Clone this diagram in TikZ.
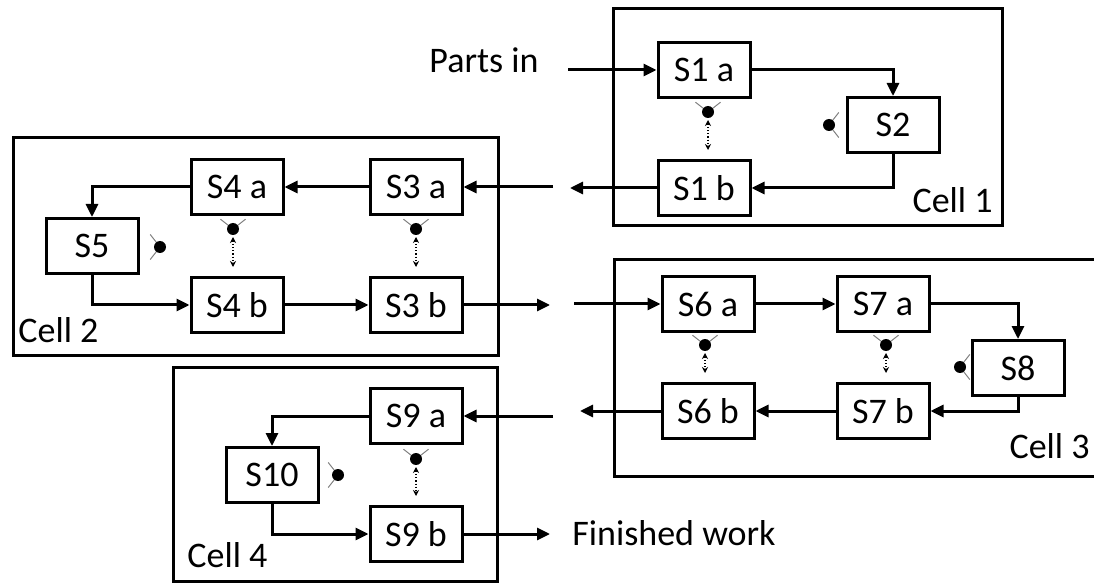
\documentclass[tikz,border=0pt]{standalone}
\usepackage{fontspec}
\setmainfont{Carlito}
\usetikzlibrary{arrows.meta}
\begin{document}
\begin{tikzpicture}[x=0.5pt,y=-0.5pt,
  station/.style={draw,line width=1.5pt,minimum width=46pt,minimum height=27.5pt,inner sep=0pt,font=\fontsize{18}{21}\selectfont},
  cellbox/.style={line width=1.5pt},
  lbl/.style={font=\fontsize{18}{21}\selectfont,inner sep=0pt},
  flow/.style={line width=1.5pt,-{Triangle[length=6.5pt,width=6pt]}},
  arm/.style={gray,line width=0.5pt},
  dotarr/.style={densely dotted,line width=0.6pt,{Stealth[length=3pt,width=3pt]}-{Stealth[length=3pt,width=3pt]},shorten <=4pt,shorten >=4.5pt},
  worker/.pic={\draw[arm] (0,0) -- ++(#1+52:16) (0,0) -- ++(#1-52:16); \fill (0,0) circle (3pt);}
]
\useasboundingbox (0,0) rectangle (1094,583);
\clip (0,0) rectangle (1094,583);

% cells
\draw[cellbox] (613,9) rectangle (1002,226);
\draw[cellbox] (13,138) rectangle (498,355);
\draw[cellbox] (614,260) rectangle (1120,476);
\draw[cellbox] (173,367) rectangle (497,581);
\node[lbl,anchor=base east] (c1) at (993,213) {Cell 1};
\node[lbl,anchor=base west] (c2) at (18,343) {Cell 2};
\node[lbl,anchor=base east] (c3) at (1090,458) {Cell 3};
\node[lbl,anchor=base west] (c4) at (187,567) {Cell 4};

% stations
\node[station] (S1a) at (704,70) {S1 a};
\node[station] (S2) at (893,125) {S2};
\node[station] (S1b) at (704,188) {S1 b};
\node[station] (S3a) at (416,187) {S3 a};
\node[station] (S4a) at (237,187) {S4 a};
\node[station] (S5) at (92,246) {S5};
\node[station] (S4b) at (237,305) {S4 b};
\node[station] (S3b) at (416,305) {S3 b};
\node[station] (S6a) at (708,304) {S6 a};
\node[station] (S7a) at (883,304) {S7 a};
\node[station] (S8) at (1018,368) {S8};
\node[station] (S6b) at (708,411) {S6 b};
\node[station] (S7b) at (883,411) {S7 b};
\node[station] (S9a) at (416,416) {S9 a};
\node[station] (S10) at (272,475) {S10};
\node[station] (S9b) at (416,534) {S9 b};

% outside texts
\node[lbl,anchor=base west] (pin) at (429,73) {Parts in};
\node[lbl,anchor=base west] (fw) at (572,545) {Finished work};

% free ends
\coordinate (p0) at (568,70);
\coordinate (o1) at (570,188);
\coordinate (i2) at (553,187);
\coordinate (o2) at (550,305);
\coordinate (i3) at (574,304);
\coordinate (o3) at (580,411);
\coordinate (i4) at (553,416);
\coordinate (fin) at (550,534);

% flow
\draw[flow] (p0) -- (S1a.west);
\draw[flow] (S1a.east) -| (S2.north);
\draw[flow] (S2.south) |- (S1b.east);
\draw[flow] (S1b.west) -- (o1);
\draw[flow] (i2) -- (S3a.east);
\draw[flow] (S3a.west) -- (S4a.east);
\draw[flow] (S4a.west) -| (S5.north);
\draw[flow] (S5.south) |- (S4b.west);
\draw[flow] (S4b.east) -- (S3b.west);
\draw[flow] (S3b.east) -- (o2);
\draw[flow] (i3) -- (S6a.west);
\draw[flow] (S6a.east) -- (S7a.west);
\draw[flow] (S7a.east) -| (S8.north);
\draw[flow] (S8.south) |- (S7b.east);
\draw[flow] (S7b.west) -- (S6b.east);
\draw[flow] (S6b.west) -- (o3);
\draw[flow] (i4) -- (S9a.east);
\draw[flow] (S9a.west) -| (S10.north);
\draw[flow] (S10.south) |- (S9b.west);
\draw[flow] (S9b.east) -- (fin);

% workers
\coordinate (w1) at (708,112);
\coordinate (w2) at (829,125);
\coordinate (w3) at (233,229);
\coordinate (w4) at (416,229);
\coordinate (w5) at (160,247);
\coordinate (w6) at (705,345);
\coordinate (w7) at (886,345);
\coordinate (w8) at (960,367);
\coordinate (w9) at (416,459);
\coordinate (w10) at (338,475);
\pic at (w1) {worker=270};
\pic at (w2) {worker=0};
\pic at (w3) {worker=270};
\pic at (w4) {worker=270};
\pic at (w5) {worker=180};
\pic at (w6) {worker=270};
\pic at (w7) {worker=270};
\pic at (w8) {worker=0};
\pic at (w9) {worker=270};
\pic at (w10) {worker=180};
\draw[dotarr] (w1) -- (w1 |- S1b.north);
\draw[dotarr] (w3) -- (w3 |- S4b.north);
\draw[dotarr] (w4) -- (w4 |- S3b.north);
\draw[dotarr] (w6) -- (w6 |- S6b.north);
\draw[dotarr] (w7) -- (w7 |- S7b.north);
\draw[dotarr] (w9) -- (w9 |- S9b.north);
\end{tikzpicture}
\end{document}
